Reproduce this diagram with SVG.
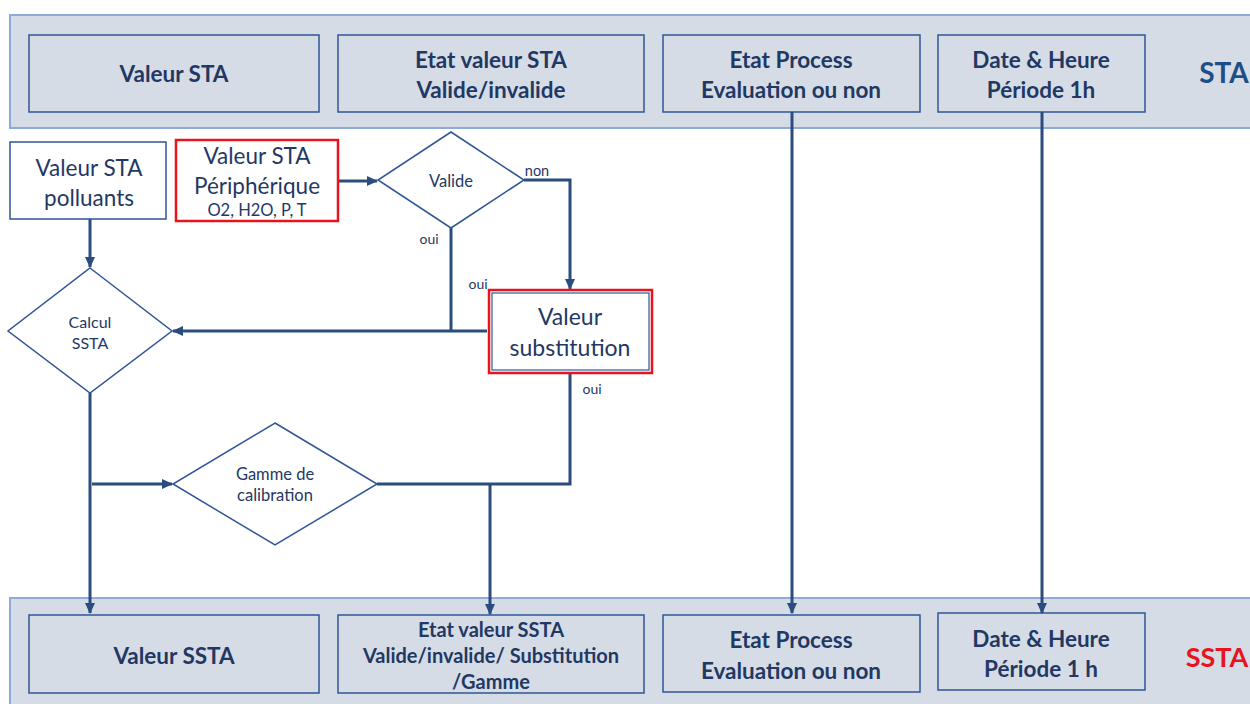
<svg xmlns="http://www.w3.org/2000/svg" width="1250" height="704" viewBox="0 0 1250 704">
<style>
.band{fill:#d6dce5;stroke:#8eaadb;stroke-width:2}
.hbox{fill:#d6dce5;stroke:#2f5597;stroke-width:1.5}
.wbox{fill:#ffffff;stroke:#2f5597;stroke-width:1.5}
.rbox{fill:#ffffff;stroke:#e8141c;stroke-width:2.5}
.dia{fill:#ffffff;stroke:#2f5597;stroke-width:1.5}
.t{font-family:Lato,"Liberation Sans",sans-serif;fill:#1f3864;text-anchor:middle;dominant-baseline:central}
.b{font-weight:bold}
.c{fill:none;stroke:#2b4c7e;stroke-width:3}
</style>
<defs>
<marker id="ah" markerUnits="userSpaceOnUse" markerWidth="12" markerHeight="10" refX="10" refY="5" orient="auto">
<path d="M0,0 L11,5 L0,10 Z" fill="#2b4c7e"/>
</marker>
</defs>
<rect width="1250" height="704" fill="#ffffff"/>

<g id="band-sta">
<rect class="band" x="10" y="15" width="1250" height="113"/>
<text class="t b" x="1224" y="72" font-size="28" style="fill:#1f4e86">STA</text>
</g>
<g id="band-ssta">
<rect class="band" x="10" y="598" width="1250" height="120"/>
<text class="t b" x="1217" y="656" font-size="27" style="fill:#e8141c">SSTA</text>
</g>

<g id="valeur-sta">
<rect class="hbox" x="29" y="35" width="290" height="77"/>
<text class="t b" x="174" y="73" font-size="22.5">Valeur STA</text>
</g>
<g id="etat-valeur-sta">
<rect class="hbox" x="338" y="35" width="306" height="77"/>
<text class="t b" x="491" y="59" font-size="22.5">Etat valeur STA</text>
<text class="t b" x="491" y="89" font-size="22.5">Valide/invalide</text>
</g>
<g id="etat-process-sta">
<rect class="hbox" x="663" y="35" width="257" height="77"/>
<text class="t b" x="791" y="59" font-size="22.5">Etat Process</text>
<text class="t b" x="791" y="89" font-size="22.5">Evaluation ou non</text>
</g>
<g id="date-heure-sta">
<rect class="hbox" x="938" y="35" width="207" height="77"/>
<text class="t b" x="1041" y="59" font-size="22.5">Date &amp; Heure</text>
<text class="t b" x="1041" y="89" font-size="22.5">Période 1h</text>
</g>

<g id="valeur-ssta">
<rect class="hbox" x="29" y="615" width="290" height="78"/>
<text class="t b" x="174" y="655" font-size="22.5">Valeur SSTA</text>
</g>
<g id="etat-valeur-ssta">
<rect class="hbox" x="338" y="615" width="306" height="78"/>
<text class="t b" x="491" y="629" font-size="20">Etat valeur SSTA</text>
<text class="t b" x="491" y="655" font-size="20">Valide/invalide/ Substitution</text>
<text class="t b" x="491" y="681" font-size="20">/Gamme</text>
</g>
<g id="etat-process-ssta">
<rect class="hbox" x="663" y="615" width="257" height="77"/>
<text class="t b" x="791" y="639" font-size="22.5">Etat Process</text>
<text class="t b" x="791" y="670" font-size="22.5">Evaluation ou non</text>
</g>
<g id="date-heure-ssta">
<rect class="hbox" x="938" y="613" width="207" height="77"/>
<text class="t b" x="1041" y="638" font-size="22.5">Date &amp; Heure</text>
<text class="t b" x="1041" y="668" font-size="22.5">Période 1 h</text>
</g>

<g id="connectors">
<path class="c" d="M338,181 H377" marker-end="url(#ah)"/>
<path class="c" d="M524,180 H570 V289" marker-end="url(#ah)"/>
<path class="c" d="M451,228 V331"/>
<path class="c" d="M487,331 H173" marker-end="url(#ah)"/>
<path class="c" d="M570,373 V484 H377"/>
<path class="c" d="M490,484 V614" marker-end="url(#ah)"/>
<path class="c" d="M90,219 V267" marker-end="url(#ah)"/>
<path class="c" d="M90,393 V613" marker-end="url(#ah)"/>
<path class="c" d="M92,484 H172" marker-end="url(#ah)"/>
<path class="c" d="M792,112 V613" marker-end="url(#ah)"/>
<path class="c" d="M1042,112 V613" marker-end="url(#ah)"/>
<text class="t" x="537" y="170" font-size="14.5">non</text>
<text class="t" x="429" y="238" font-size="14">oui</text>
<text class="t" x="478" y="283" font-size="14">oui</text>
<text class="t" x="592" y="388" font-size="14">oui</text>
</g>

<g id="valeur-sta-polluants">
<rect class="wbox" x="10" y="142" width="156" height="77"/>
<text class="t" x="89" y="167" font-size="22.5">Valeur STA</text>
<text class="t" x="89" y="197" font-size="22.5">polluants</text>
</g>
<g id="valeur-sta-peripherique">
<rect class="rbox" x="176" y="140" width="162" height="81"/>
<text class="t" x="257" y="155" font-size="22.5">Valeur STA</text>
<text class="t" x="257" y="185" font-size="22.5">Périphérique</text>
<text class="t" x="257" y="210" font-size="16.5">O2, H2O, P, T</text>
</g>
<g id="valide">
<path class="dia" d="M451,132 L524,180 L451,228 L378,180 Z"/>
<text class="t" x="451" y="181" font-size="16.5">Valide</text>
</g>
<g id="valeur-substitution">
<rect class="rbox" x="489" y="290" width="163" height="83"/>
<rect fill="none" stroke="#2f5597" stroke-width="1.2" x="492" y="293" width="157" height="77"/>
<text class="t" x="570" y="316" font-size="23">Valeur</text>
<text class="t" x="570" y="347" font-size="23">substitution</text>
</g>
<g id="calcul-ssta">
<path class="dia" d="M90,268 L172,331 L90,393 L8,331 Z"/>
<text class="t" x="90" y="321" font-size="16">Calcul</text>
<text class="t" x="90" y="342" font-size="16">SSTA</text>
</g>
<g id="gamme-calibration">
<path class="dia" d="M275,423 L377,484 L275,545 L173,484 Z"/>
<text class="t" x="275" y="474" font-size="16.5">Gamme de</text>
<text class="t" x="275" y="495" font-size="16.5">calibration</text>
</g>
</svg>
